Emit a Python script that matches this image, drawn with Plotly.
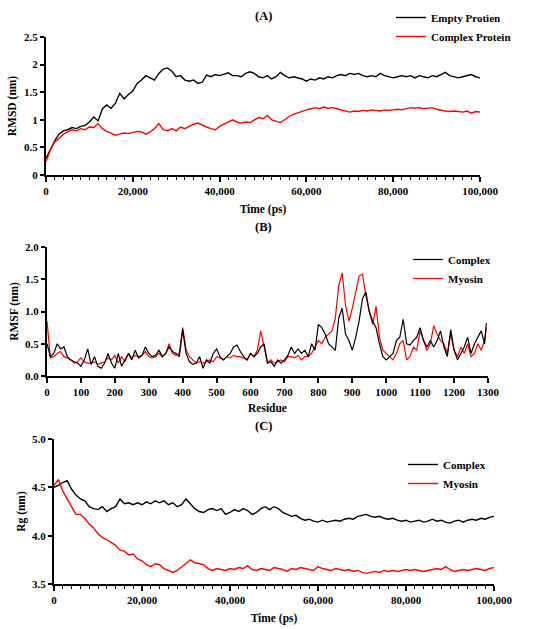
import plotly.graph_objects as go

# ---- data (time step 1000 ps, residue step 10) ----
time_ps = list(range(0, 100001, 1000))

rmsd_empty = [
    0.30, 0.45, 0.62, 0.74, 0.80, 0.82, 0.86, 0.84, 0.88, 0.90,
    0.96, 1.05, 0.98, 1.20, 1.27, 1.21, 1.30, 1.48, 1.38, 1.46,
    1.52, 1.66, 1.72, 1.80, 1.76, 1.72, 1.84, 1.92, 1.94, 1.88,
    1.78, 1.80, 1.72, 1.70, 1.72, 1.66, 1.68, 1.81, 1.78, 1.82,
    1.80, 1.82, 1.85, 1.80, 1.80, 1.78, 1.84, 1.87, 1.84, 1.78,
    1.76, 1.80, 1.74, 1.78, 1.86, 1.80, 1.76, 1.78, 1.76, 1.74,
    1.70, 1.74, 1.72, 1.76, 1.74, 1.78, 1.76, 1.80, 1.82, 1.80,
    1.84, 1.82, 1.84, 1.80, 1.78, 1.80, 1.78, 1.84, 1.80, 1.78,
    1.76, 1.78, 1.80, 1.78, 1.80, 1.76, 1.80, 1.78, 1.76, 1.80,
    1.78, 1.82, 1.86, 1.80, 1.78, 1.76, 1.78, 1.80, 1.82, 1.78,
    1.76,
]

rmsd_complex = [
    0.25, 0.45, 0.60, 0.66, 0.74, 0.78, 0.82, 0.80, 0.84, 0.82,
    0.87, 0.86, 0.93, 0.84, 0.79, 0.76, 0.72, 0.74, 0.76, 0.75,
    0.77, 0.79, 0.78, 0.74, 0.78, 0.84, 0.93, 0.82, 0.80, 0.84,
    0.80, 0.87, 0.84, 0.88, 0.92, 0.94, 0.90, 0.87, 0.84, 0.82,
    0.88, 0.92, 0.96, 1.00, 0.96, 0.94, 0.96, 0.95, 1.00, 1.04,
    1.02, 1.08, 1.00, 0.97, 0.95, 1.00, 1.06, 1.10, 1.13, 1.16,
    1.18, 1.20, 1.22, 1.20, 1.23, 1.21, 1.22, 1.20, 1.18, 1.16,
    1.14, 1.16, 1.15, 1.17, 1.16, 1.18, 1.17, 1.16, 1.18, 1.17,
    1.18, 1.19, 1.18, 1.20, 1.22, 1.21, 1.22, 1.20, 1.21, 1.22,
    1.19, 1.17, 1.16, 1.15, 1.16, 1.15, 1.14, 1.16, 1.12, 1.15,
    1.14,
]

residues = list(range(0, 1300, 10)) + [1295]

rmsf_complex = [
    0.50, 0.30, 0.35, 0.50, 0.42, 0.45, 0.30, 0.25, 0.22, 0.20,
    0.15, 0.25, 0.42, 0.18, 0.30, 0.15, 0.12, 0.20, 0.35, 0.20,
    0.12, 0.35, 0.15, 0.25, 0.35, 0.25, 0.40, 0.28, 0.32, 0.45,
    0.35, 0.30, 0.32, 0.40, 0.30, 0.35, 0.45, 0.38, 0.35, 0.30,
    0.72, 0.35, 0.22, 0.18, 0.20, 0.30, 0.12, 0.25, 0.20, 0.35,
    0.42, 0.30, 0.25, 0.30, 0.35, 0.45, 0.48, 0.38, 0.30, 0.25,
    0.35, 0.30, 0.35, 0.45, 0.50, 0.20, 0.22, 0.15, 0.25, 0.20,
    0.25, 0.32, 0.45, 0.35, 0.42, 0.35, 0.40, 0.30, 0.50, 0.40,
    0.80, 0.75, 0.65, 0.50, 0.45, 0.40, 0.90, 1.05, 0.65, 0.55,
    0.40, 0.60, 0.85, 1.20, 1.30, 1.00, 0.85, 0.75, 0.50, 0.30,
    0.25, 0.30, 0.35, 0.55, 0.60, 0.88, 0.50, 0.48, 0.55, 0.60,
    0.75, 0.55, 0.45, 0.55, 0.45, 0.55, 0.70, 0.45, 0.30, 0.72,
    0.40, 0.25, 0.35, 0.45, 0.60, 0.35, 0.50, 0.60, 0.70, 0.50,
    0.82,
]

rmsf_myosin = [
    0.85, 0.28, 0.30, 0.35, 0.38, 0.30, 0.28, 0.25, 0.20, 0.22,
    0.28, 0.22, 0.20, 0.20, 0.22, 0.18, 0.20, 0.22, 0.28, 0.25,
    0.32, 0.20, 0.30, 0.22, 0.35, 0.28, 0.32, 0.30, 0.32, 0.38,
    0.30, 0.28, 0.30, 0.35, 0.30, 0.35, 0.50, 0.35, 0.32, 0.35,
    0.75, 0.40, 0.30, 0.25, 0.20, 0.22, 0.20, 0.22, 0.25, 0.22,
    0.30, 0.28, 0.25, 0.30, 0.28, 0.32, 0.30, 0.30, 0.27, 0.25,
    0.35, 0.30, 0.40, 0.70, 0.45, 0.20, 0.25, 0.20, 0.22, 0.25,
    0.22, 0.30, 0.30, 0.28, 0.32, 0.25, 0.30, 0.30, 0.35, 0.45,
    0.55, 0.50, 0.60, 0.65, 0.70, 0.90, 1.40, 1.60, 1.10, 0.85,
    1.05, 1.30, 1.55, 1.58, 1.25, 1.00, 0.80, 1.08, 0.60, 0.40,
    0.35, 0.30, 0.25, 0.35, 0.50, 0.55, 0.25, 0.30, 0.45, 0.40,
    0.70, 0.55, 0.40, 0.50, 0.78, 0.65, 0.55, 0.50, 0.35, 0.65,
    0.40, 0.30, 0.45, 0.35, 0.50, 0.30, 0.35, 0.50, 0.40, 0.55,
    0.75,
]

rg_complex = [
    4.50, 4.52, 4.55, 4.57, 4.48, 4.42, 4.38, 4.36, 4.30, 4.28,
    4.27, 4.30, 4.25, 4.28, 4.30, 4.38, 4.33, 4.34, 4.32, 4.34,
    4.32, 4.35, 4.33, 4.36, 4.34, 4.36, 4.32, 4.34, 4.30, 4.32,
    4.38, 4.33, 4.28, 4.25, 4.24, 4.27, 4.28, 4.26, 4.28, 4.22,
    4.24, 4.27, 4.25, 4.28, 4.26, 4.22, 4.24, 4.28, 4.30, 4.27,
    4.30, 4.28, 4.24, 4.22, 4.20, 4.21, 4.18, 4.16, 4.17, 4.15,
    4.14, 4.16, 4.14, 4.15, 4.16, 4.15, 4.17, 4.18, 4.17, 4.20,
    4.21, 4.22, 4.20, 4.19, 4.20, 4.18, 4.17, 4.18, 4.16, 4.15,
    4.16, 4.14, 4.15, 4.16, 4.14, 4.15, 4.17, 4.15, 4.16, 4.14,
    4.13, 4.15, 4.16, 4.14, 4.16, 4.17, 4.16, 4.18, 4.17, 4.19,
    4.20,
]

rg_myosin = [
    4.52, 4.58, 4.46, 4.38, 4.30, 4.22, 4.22, 4.18, 4.12, 4.08,
    4.02, 3.98, 3.96, 3.93, 3.90, 3.85, 3.84, 3.80, 3.81, 3.76,
    3.74, 3.70, 3.68, 3.71, 3.70, 3.66, 3.64, 3.62, 3.64, 3.68,
    3.72, 3.75, 3.72, 3.71, 3.70, 3.66, 3.64, 3.66, 3.65, 3.64,
    3.66, 3.65, 3.67, 3.66, 3.69, 3.65, 3.64, 3.66, 3.65, 3.64,
    3.67, 3.66, 3.65, 3.63, 3.66, 3.65, 3.67, 3.66, 3.65, 3.64,
    3.68, 3.66, 3.65, 3.64, 3.66, 3.65, 3.64, 3.65, 3.63, 3.64,
    3.62, 3.61, 3.62, 3.63, 3.62, 3.64, 3.63, 3.64, 3.63, 3.64,
    3.65, 3.64, 3.65, 3.64, 3.63, 3.64, 3.65, 3.66, 3.65, 3.68,
    3.65, 3.63, 3.64, 3.65, 3.64, 3.65, 3.66, 3.65, 3.64, 3.66,
    3.67,
]

time_ticks = [0, 20000, 40000, 60000, 80000, 100000]
residue_ticks = list(range(0, 1301, 100))

FONT = "Liberation Serif"
W, H = 550, 629

fig = go.Figure()

fig.add_trace(go.Scatter(x=time_ps, y=rmsd_empty, name="Empty Protien", mode="lines",
                         line=dict(color="black", width=1.4), xaxis="x", yaxis="y", legend="legend"))
fig.add_trace(go.Scatter(x=time_ps, y=rmsd_complex, name="Complex Protein", mode="lines",
                         line=dict(color="#ff0000", width=1.4), xaxis="x", yaxis="y", legend="legend"))

# red under black in panel B
fig.add_trace(go.Scatter(x=residues, y=rmsf_myosin, name="Myosin", mode="lines",
                         line=dict(color="#ff0000", width=1.2), xaxis="x2", yaxis="y2", legend="legend2"))
fig.add_trace(go.Scatter(x=residues, y=rmsf_complex, name="Complex", mode="lines",
                         line=dict(color="black", width=1.2), xaxis="x2", yaxis="y2", legend="legend2"))

fig.add_trace(go.Scatter(x=time_ps, y=rg_complex, name="Complex", mode="lines",
                         line=dict(color="black", width=1.4), xaxis="x3", yaxis="y3", legend="legend3"))
fig.add_trace(go.Scatter(x=time_ps, y=rg_myosin, name="Myosin", mode="lines",
                         line=dict(color="#ff0000", width=1.4), xaxis="x3", yaxis="y3", legend="legend3"))

tick_font = dict(family=FONT, size=11, color="black", weight="bold")
title_font = dict(family=FONT, size=11.5, color="black", weight="bold")
legend_font = dict(family=FONT, size=11, color="black", weight="bold")


def xaxis_style(domain, rng, tickvals, fmt, anchor, title, minor, standoff):
    ax = dict(domain=domain, range=rng, anchor=anchor, tickvals=tickvals, tickformat=fmt,
              automargin=False, showgrid=False, zeroline=False, showline=True,
              linecolor="black", linewidth=2,
              ticks="outside", ticklen=5, tickwidth=1.5, tickcolor="black",
              tickfont=tick_font, title=dict(text=title, font=title_font, standoff=standoff))
    if minor:
        ax["minor"] = dict(dtick=2000, ticks="outside", ticklen=3, tickwidth=1.2, tickcolor="black")
    return ax


def yaxis_style(domain, rng, dtick, fmt, anchor, title, standoff):
    return dict(domain=domain, range=rng, anchor=anchor, dtick=dtick, tick0=rng[0], tickformat=fmt,
                automargin=False, showgrid=False, zeroline=False, showline=True,
                linecolor="black", linewidth=2,
                ticks="outside", ticklen=4, tickwidth=1.5, tickcolor="black",
                tickfont=tick_font, title=dict(text=title, font=title_font, standoff=standoff))


fig.update_layout(
    width=W, height=H,
    margin=dict(l=0, r=0, t=0, b=0, autoexpand=False),
    paper_bgcolor="white", plot_bgcolor="white",
    font=dict(family=FONT, color="black"),
    xaxis=xaxis_style([46 / W, 480 / W], [0, 100000], time_ticks, ",", "y", "Time (ps)", True, 9),
    yaxis=yaxis_style([1 - 175 / H, 1 - 37 / H], [0, 2.5], 0.5, "", "x", "RMSD (nm)", 5),
    xaxis2=xaxis_style([47 / W, 488 / W], [0, 1300], residue_ticks, "d", "y2", "Residue", False, 7),
    yaxis2=yaxis_style([1 - 376 / H, 1 - 247 / H], [0, 2.0], 0.5, ".1f", "x2", "RMSF (nm)", 4),
    xaxis3=xaxis_style([54 / W, 494 / W], [0, 100000], time_ticks, ",", "y3", "Time (ps)", True, 9),
    yaxis3=yaxis_style([1 - 584 / H, 1 - 439 / H], [3.5, 5.0], 0.5, ".1f", "x3", "Rg (nm)", 4),
    legend=dict(x=391 / W, y=1 - 3 / H, xanchor="left", yanchor="top", bgcolor="rgba(0,0,0,0)",
                font=legend_font, itemwidth=30, tracegroupgap=0),
    legend2=dict(x=408 / W, y=1 - 245 / H, xanchor="left", yanchor="top", bgcolor="rgba(0,0,0,0)",
                 font=legend_font, itemwidth=30, traceorder="reversed"),
    legend3=dict(x=403 / W, y=1 - 450 / H, xanchor="left", yanchor="top", bgcolor="rgba(0,0,0,0)",
                 font=legend_font, itemwidth=30),
    showlegend=True,
)

panel_titles = [("(A)", 16), ("(B)", 227), ("(C)", 426)]
for label, ypix in panel_titles:
    fig.add_annotation(text=label, x=263 / W, y=1 - ypix / H, xref="paper", yref="paper",
                       showarrow=False, xanchor="center", yanchor="middle",
                       font=dict(family=FONT, size=12.5, color="black", weight="bold"))

# the page body has an 8px default margin; drop it so the figure sits at the window corner
fig.write_html("out.html", config={"displayModeBar": False},
               post_script="document.body.style.margin = '0px';")
